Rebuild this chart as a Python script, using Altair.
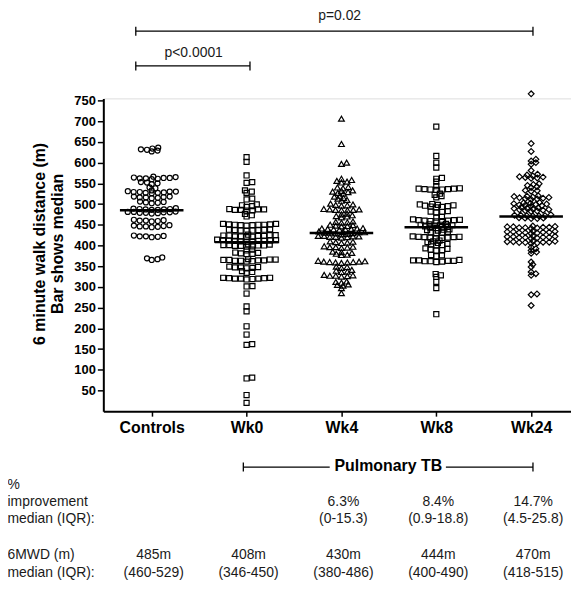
import math
import json
import altair as alt
import pandas as pd

# ---------------- data ----------------
groups = ["Controls", "Wk0", "Wk4", "Wk8", "Wk24"]
shapes = ["circle", "square", "triangle-up", "square", "diamond"]
medians = [485, 408, 430, 444, 470]

controls = [627, 629, 631, 632, 634, 636,
            565, 563, 562, 561, 560, 562, 564, 566, 563,
            552, 550, 548, 553, 540, 538,
            530, 529, 528, 527, 526, 531, 529, 530, 527, 533,
            518, 516, 515, 517, 514, 516, 518,
            505, 503, 504, 506, 502,
            488, 487, 486, 489, 487, 486, 488, 490,
            480, 479, 481, 478, 480, 482, 479, 477, 481,
            461, 460, 459, 462, 460, 458,
            447, 446, 448, 445, 444, 449, 446,
            423, 422, 421, 424, 420, 422,
            371, 367, 365, 369]

wk0 = [613, 602, 569, 553, 551, 533, 530, 527, 513, 511, 499, 497, 495, 493,
       487, 486, 485, 488, 484, 486, 487,
       476, 473, 470,
       452, 451, 450, 449, 451, 450, 448, 452, 449, 450,
       438, 437, 436, 439, 435, 437, 438, 436,
       425, 424, 423, 422, 426, 421, 424, 423, 422, 425, 420,
       413, 412, 411, 414, 410, 412, 413, 411, 409, 412, 410,
       401, 400, 399, 402, 398, 400, 401, 399, 403, 397,
       390, 388,
       382, 381, 380, 383, 379,
       366, 365, 364, 363, 367, 362, 365, 364, 363, 366, 361,
       349, 347, 346, 348, 345, 347,
       338, 336, 334,
       322, 321, 320, 319, 321, 320, 318, 322, 320,
       302, 301, 284, 253, 241, 205, 185, 162, 160, 81, 79, 39, 20]

wk4 = [706, 645, 600, 597,
       561, 558, 556, 554, 552,
       541, 540, 538,
       533, 532, 530, 529, 527, 525,
       520, 518, 515, 513, 510, 508,
       501, 499, 498, 497, 496,
       487, 486, 486, 485, 487, 485, 488,
       477, 475, 473, 471, 470, 468,
       457, 456, 455, 458,
       450, 449, 448, 447, 446,
       441, 440, 439, 442, 438, 440, 441, 439,
       433, 432, 431, 434, 430, 432, 429, 428, 431, 427,
       423, 422, 421, 422, 420, 421, 423, 419,
       409, 408, 407, 410, 406,
       397, 396, 395, 398, 394, 396,
       385, 384, 382, 380, 378, 377,
       361, 360, 359, 362, 358, 360, 361, 359, 363,
       349, 348, 346,
       341, 339, 337, 336,
       328, 327, 326, 329, 325, 327,
       313, 312, 310,
       306, 305, 303,
       297, 285]

wk8 = [687, 616, 600, 588,
       563, 561, 554,
       543,
       537, 536, 535, 536, 534, 537, 535, 538,
       525, 522, 519, 516,
       500, 499, 498, 497, 496, 495, 494, 493, 492,
       483, 482, 481, 480,
       469, 467,
       461, 460, 459, 462, 458, 460, 461, 459, 463,
       451, 450, 449, 452, 448, 450,
       445, 444, 443, 446, 442,
       438, 437, 439, 436,
       433, 432, 431, 430,
       421, 420, 419, 422, 418, 420, 421, 419, 417,
       412, 410, 408, 406, 404, 403, 401, 400,
       393, 392, 390, 389, 388,
       377, 376, 374,
       364, 363, 362, 365, 361, 363, 364, 362, 360,
       331, 328, 324,
       312, 297, 234]

wk24 = [766, 646, 627,
        608, 604, 600, 596,
        581,
        572, 570, 568, 566, 565, 564, 563, 562,
        549, 547, 545, 542, 540,
        533, 532, 531,
        520, 519, 518, 517, 516, 515, 514, 513, 512, 511,
        504, 503, 502, 501, 500, 499, 498, 497, 496, 495,
        492, 491, 490, 489, 488, 487, 486, 485, 484, 483, 482,
        473, 472, 471, 472, 473, 471, 474, 466, 467, 465, 466, 465,
        445, 444, 443, 446, 442, 444, 445, 443, 447, 441,
        433, 432, 431, 434, 430, 432, 433, 431, 435, 429,
        421, 420, 419, 422, 418, 420, 421, 419, 423, 417,
        409, 408, 407, 410, 406, 408, 409, 407, 411, 405,
        396, 392, 388, 384, 381,
        360, 354, 348,
        336, 332, 328,
        283, 281, 255]

series = [controls, wk0, wk4, wk8, wk24]

pct_top = ["", "", "6.3%", "8.4%", "14.7%"]
pct_iqr = ["", "", "(0-15.3)", "(0.9-18.8)", "(4.5-25.8)"]
mwd_top = ["485m", "408m", "430m", "444m", "470m"]
mwd_iqr = ["(460-529)", "(346-450)", "(380-486)", "(400-490)", "(418-515)"]
row_labels = ["%", "improvement", "median (IQR):", "6MWD (m)", "median (IQR):"]

# ---------------- layout ----------------
W, H = 471, 315
XMIN, XMAX = -0.51, 4.42
YMAX = 755
PX_X = W / (XMAX - XMIN)
PX_Y = H / YMAX
FONT = "Liberation Sans"


def swarm(values, sx, sy):
    """Greedy beeswarm with an elliptical footprint (sx wide, sy tall, in px)."""
    placed = []
    offs = [0.0] * len(values)
    order = sorted(range(len(values)), key=lambda i: values[i])
    for i in order:
        y = values[i] * PX_Y
        forb = []
        for yy, xx in placed:
            dy = abs(y - yy)
            if dy < sy:
                w = sx * math.sqrt(1 - (dy / sy) ** 2)
                forb.append((xx - w, xx + w))
        cands = [0.0] + [a for a, b in forb] + [b for a, b in forb]
        cands.sort(key=lambda c: (round(abs(c), 6), -c))
        x = 0.0
        for c in cands:
            if all(not (a + 1e-6 < c < b - 1e-6) for a, b in forb):
                x = c
                break
        placed.append((y, x))
        offs[i] = x
    return offs


sizes = [26, 26, 34, 26, 34]
steps = [6.2, 6.0, 6.0, 6.0, 6.2]

xscale = alt.Scale(domain=[XMIN, XMAX], nice=False, zero=False)
yscale = alt.Scale(domain=[0, YMAX], nice=False, zero=False)

x_axis = alt.Axis(values=[0, 1, 2, 3, 4],
                  labelExpr=json.dumps(groups) + "[datum.value]",
                  grid=False, tickSize=5, tickWidth=1.5, tickColor="black",
                  domainColor="black", domainWidth=2,
                  labelFont=FONT, labelFontSize=16, labelFontWeight="bold",
                  labelColor="black", labelPadding=3, labelFlush=False,
                  labelOverlap=False, title=None)
y_axis = alt.Axis(values=list(range(50, 751, 50)), grid=False,
                  tickSize=6, tickWidth=1.5, tickColor="black",
                  domainColor="black", domainWidth=2,
                  labelFont=FONT, labelFontSize=13, labelFontWeight="bold",
                  labelColor="black", labelPadding=2, labelFlush=False,
                  labelOverlap=False, labelSeparation=0,
                  title=["6 minute walk distance (m)", "Bar shows median"],
                  titleFont=FONT, titleFontSize=16, titleFontWeight="bold",
                  titleColor="black", titlePadding=8, titleLineHeight=19,
                  titleY=146)


def xq(field):
    return alt.X(field, scale=xscale, axis=x_axis)


def yq(field):
    return alt.Y(field, scale=yscale, axis=y_axis)


layers = []
for gi, (g, vals) in enumerate(zip(groups, series)):
    offs = swarm(vals, steps[gi], 2.6)
    df = pd.DataFrame({"group": g, "value": vals,
                       "xpos": [gi + o / PX_X for o in offs]})
    layers.append(
        alt.Chart(df).mark_point(shape=shapes[gi], filled=False, color="black",
                                 strokeWidth=1.2, size=sizes[gi], opacity=1)
        .encode(x=xq("xpos:Q"), y=yq("value:Q"))
    )

# median bars
half = 32 / PX_X
med_df = pd.DataFrame({"lo": [i - half for i in range(5)],
                       "hi": [i + half for i in range(5)],
                       "median": medians})
layers.append(alt.Chart(med_df).mark_rule(color="black", strokeWidth=2.4)
              .encode(x=xq("lo:Q"), x2="hi:Q", y=yq("median:Q")))

# significance brackets and "Pulmonary TB" bracket (annotation positions, plot pixels)
one = pd.DataFrame({"k": [0]})


def hline(x1, x2, y):
    return alt.Chart(one).mark_rule(color="black", strokeWidth=1.3).encode(
        x=alt.value(x1), x2=alt.value(x2), y=alt.value(y))


def vcap(x, y):
    return alt.Chart(one).mark_rule(color="black", strokeWidth=1.3).encode(
        x=alt.value(x), y=alt.value(y - 4.5), y2=alt.value(y + 4.5))


def label(txt, x, y, size=14, weight="normal", align="center", color="#1a1a1a"):
    return alt.Chart(one).mark_text(text=txt, font=FONT, fontSize=size,
                                    fontWeight=weight, align=align,
                                    baseline="middle", color=color).encode(
        x=alt.value(x), y=alt.value(y))


layers += [hline(32.7, 432.7, -67.7), vcap(32.7, -67.7), vcap(432.7, -67.7),
           label("p=0.02", 238, -83),
           hline(32.7, 147.7, -32.7), vcap(32.7, -32.7), vcap(147.7, -32.7),
           label("p<0.0001", 91, -45.5),
           hline(141, 228, 371.3), hline(345, 432.7, 371.3),
           vcap(141, 371.3), vcap(432.7, 371.3),
           label("Pulmonary TB", 287, 370, size=16, weight="bold", color="black")]

# row labels at the left
for txt, yy in zip(row_labels, [389.7, 406.3, 424, 460, 478]):
    layers.append(label(txt, -96.5, yy, align="left"))

# column texts aligned to the categories
for texts, yy in [(pct_top, 406.3), (pct_iqr, 424), (mwd_top, 460), (mwd_iqr, 478)]:
    tdf = pd.DataFrame({"idx": list(range(5)), "t": texts})
    tdf = tdf[tdf["t"] != ""]
    layers.append(alt.Chart(tdf).mark_text(font=FONT, fontSize=14, color="#1a1a1a",
                                           baseline="middle", dx=2)
                  .encode(x=xq("idx:Q"), y=alt.value(yy), text="t:N"))

chart = (alt.layer(*layers)
         .properties(width=W, height=H,
                     padding={"left": 96, "top": 89, "right": 0, "bottom": 173},
                     autosize=alt.AutoSizeParams(type="none"))
         .configure_view(stroke=None)
         .configure_axis(labelOverlap=False)
         .configure(background="white"))

chart.save("out.html", embed_options={"renderer": "svg", "actions": False})
